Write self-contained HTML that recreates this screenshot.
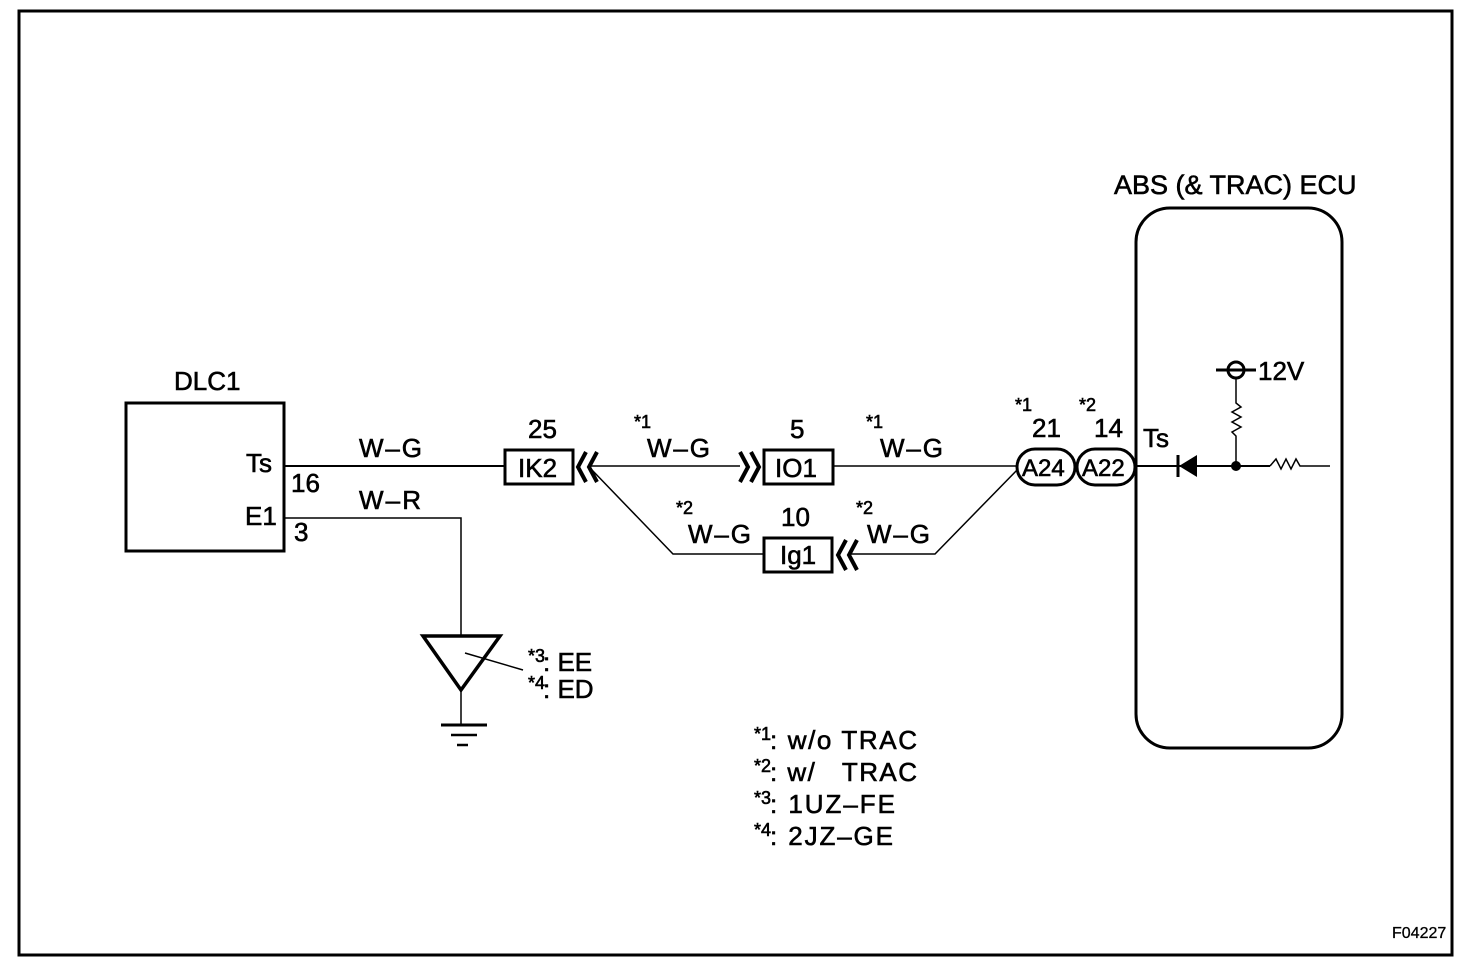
<!DOCTYPE html>
<html><head><meta charset="utf-8"><style>
html,body{margin:0;padding:0;background:#fff}
svg{display:block}
text{font-family:"Liberation Sans",sans-serif;fill:#000;stroke:#000;stroke-width:0.6}
.t{font-size:26px}
.s{font-size:18px}
</style></head><body>
<svg width="1472" height="966" viewBox="0 0 1472 966" xmlns="http://www.w3.org/2000/svg">
<rect x="19" y="11" width="1433" height="944" fill="none" stroke="#000" stroke-width="3"/>
<!-- DLC1 -->
<text class="t" x="174" y="390">DLC1</text>
<rect x="126" y="403" width="158" height="148" fill="none" stroke="#000" stroke-width="3"/>
<text class="t" x="246" y="472">Ts</text>
<text class="t" x="291" y="492">16</text>
<text class="t" x="245" y="525">E1</text>
<text class="t" x="294" y="541">3</text>
<line x1="285" y1="466" x2="505" y2="466" stroke="#000" stroke-width="2"/>
<text class="t" x="359" y="457" textLength="63">W–G</text>
<text class="t" x="359" y="509" textLength="62">W–R</text>
<polyline points="285,518 461,518 461,636" fill="none" stroke="#000" stroke-width="1.5"/>
<!-- ground -->
<polygon points="423,636 500,636 461,690" fill="none" stroke="#000" stroke-width="3.5"/>
<line x1="465" y1="653" x2="523" y2="670" stroke="#000" stroke-width="1.5"/>
<line x1="461" y1="690" x2="461" y2="724" stroke="#000" stroke-width="1.5"/>
<line x1="441" y1="725" x2="487" y2="725" stroke="#000" stroke-width="3"/>
<line x1="451" y1="735" x2="477" y2="735" stroke="#000" stroke-width="2.5"/>
<line x1="457" y1="745" x2="468" y2="745" stroke="#000" stroke-width="2.5"/>
<text class="s" x="528" y="662">*3</text><text class="t" x="543" y="671">: EE</text>
<text class="s" x="528" y="689">*4</text><text class="t" x="543" y="698">: ED</text>
<!-- IK2 -->
<text class="t" x="528" y="438">25</text>
<rect x="505" y="450" width="68" height="34" fill="none" stroke="#000" stroke-width="3"/>
<text class="t" x="518" y="477">IK2</text>
<polyline points="586,452 578,467 586,482" fill="none" stroke="#000" stroke-width="4"/>
<polyline points="597,452 589,467 597,482" fill="none" stroke="#000" stroke-width="4"/>
<line x1="590" y1="466" x2="740" y2="466" stroke="#000" stroke-width="1.5"/>
<polyline points="592,470 673,554 763,554" fill="none" stroke="#000" stroke-width="1.5"/>
<text class="s" x="634" y="428">*1</text><text class="t" x="647" y="457" textLength="63">W–G</text>
<!-- IO1 -->
<polyline points="740,452 748,467 740,482" fill="none" stroke="#000" stroke-width="4"/>
<polyline points="751,452 759,467 751,482" fill="none" stroke="#000" stroke-width="4"/>
<text class="t" x="790" y="438">5</text>
<rect x="764" y="450" width="69" height="34" fill="none" stroke="#000" stroke-width="3"/>
<text class="t" x="775" y="477">IO1</text>
<line x1="833" y1="466" x2="1017" y2="466" stroke="#000" stroke-width="1.5"/>
<text class="s" x="866" y="428">*1</text><text class="t" x="880" y="457" textLength="63">W–G</text>
<!-- Ig1 -->
<text class="s" x="676" y="514">*2</text><text class="t" x="688" y="543" textLength="63">W–G</text>
<text class="t" x="781" y="526">10</text>
<rect x="764" y="538" width="68" height="34" fill="none" stroke="#000" stroke-width="3"/>
<text class="t" x="780" y="564">Ig1</text>
<polyline points="846,540 838,555 846,570" fill="none" stroke="#000" stroke-width="4"/>
<polyline points="857,540 849,555 857,570" fill="none" stroke="#000" stroke-width="4"/>
<polyline points="851,554 935,554 1018,469" fill="none" stroke="#000" stroke-width="1.5"/>
<text class="s" x="856" y="514">*2</text><text class="t" x="867" y="543" textLength="63">W–G</text>
<!-- A24/A22 -->
<text class="s" x="1015" y="411">*1</text><text class="t" x="1032" y="437">21</text>
<text class="s" x="1079" y="411">*2</text><text class="t" x="1094" y="437">14</text>
<rect x="1017" y="449" width="58" height="36" rx="18" fill="none" stroke="#000" stroke-width="3"/>
<rect x="1077" y="449" width="58" height="36" rx="18" fill="none" stroke="#000" stroke-width="3"/>
<text x="1022" y="476" style="font-size:24px">A24</text>
<text x="1082" y="476" style="font-size:24px">A22</text>
<!-- ECU -->
<text x="1114" y="194" style="font-size:27px">ABS (&amp; TRAC) ECU</text>
<rect x="1136" y="208" width="206" height="540" rx="34" fill="none" stroke="#000" stroke-width="3"/>
<text class="t" x="1143" y="447">Ts</text>
<line x1="1136" y1="466" x2="1270" y2="466" stroke="#000" stroke-width="2"/>
<polygon points="1197,455 1197,477 1179,466" fill="#000"/>
<line x1="1178" y1="455" x2="1178" y2="477" stroke="#000" stroke-width="3"/>
<circle cx="1236" cy="466" r="5" fill="#000"/>
<polyline points="1236,466 1236,436 1232,432 1241,427 1232,422 1241,417 1232,412 1241,407 1236,403 1236,379" fill="none" stroke="#000" stroke-width="1.5"/>
<circle cx="1236" cy="370" r="8" fill="none" stroke="#000" stroke-width="3"/>
<line x1="1216" y1="370" x2="1256" y2="370" stroke="#000" stroke-width="3"/>
<text class="t" x="1258" y="380">12V</text>
<polyline points="1270,466 1276,459 1281,469 1286,459 1291,469 1296,459 1300,466 1330,466" fill="none" stroke="#000" stroke-width="1.5"/>
<!-- legend -->
<text class="s" x="754" y="740">*1</text><text class="t" x="770" y="749" textLength="147">: w/o TRAC</text>
<text class="s" x="754" y="772">*2</text><text class="t" x="770" y="781" xml:space="preserve" textLength="147">: w/   TRAC</text>
<text class="s" x="754" y="804">*3</text><text class="t" x="770" y="813" textLength="125">: 1UZ–FE</text>
<text class="s" x="754" y="836">*4</text><text class="t" x="770" y="845" textLength="123">: 2JZ–GE</text>
<text x="1392" y="938" style="font-size:16px;stroke-width:0.3">F04227</text>
</svg>
</body></html>
